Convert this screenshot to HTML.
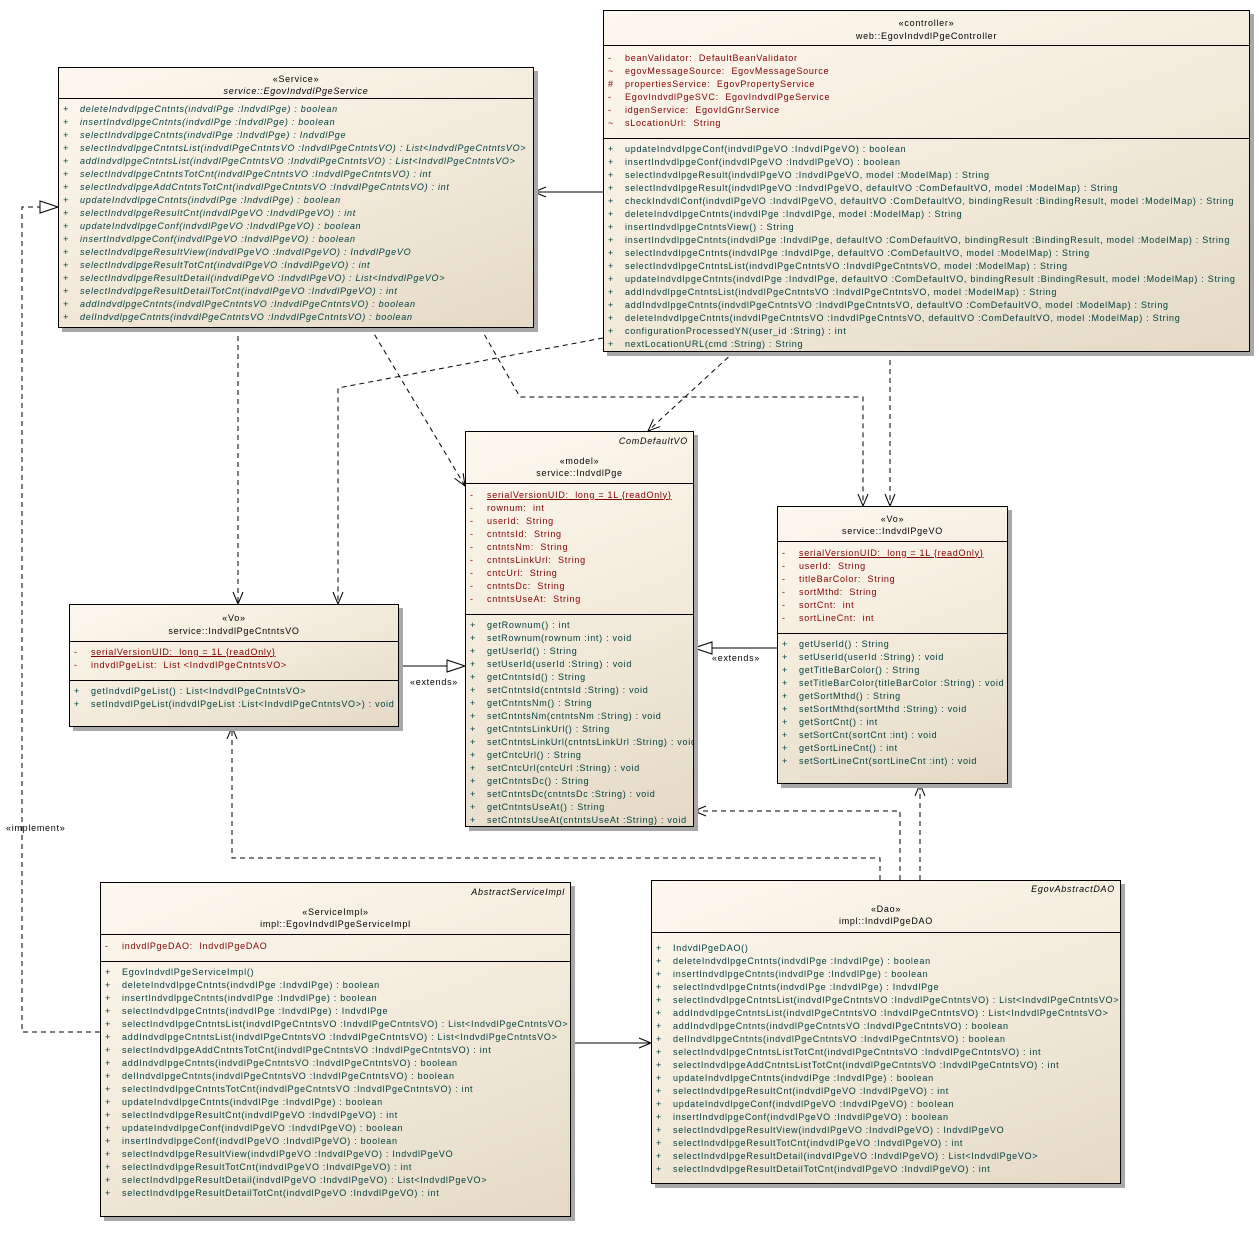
<!DOCTYPE html>
<html><head><meta charset="utf-8"><style>
body{margin:0;width:1259px;height:1240px;background:#fff;position:relative;overflow:hidden;font-family:"Liberation Sans",sans-serif;font-size:9px;letter-spacing:.72px}
.box{position:absolute;border:1px solid #000;background:linear-gradient(160deg,#fdf8ef 0%,#f3eadb 50%,#e4d9c6 100%);box-shadow:4px 4px 0 #a8a8a8;box-sizing:border-box;overflow:hidden}
.sep{position:absolute;left:0;right:0;border-top:1px solid #000}
.hd{position:absolute;left:0;right:0;text-align:center;line-height:13px;white-space:pre;color:#000}
.cr{position:absolute;right:5px;font-style:italic;line-height:13px;white-space:pre}
.ls{position:absolute;left:0;right:0}
.ls div{position:relative;height:13px;line-height:13px;padding-left:21px;white-space:pre}
.ls div:before{content:attr(m);position:absolute;left:4px}
.a{color:#800000}.o{color:#00403f}
.it div{font-style:italic}
u{text-decoration:underline}
svg{position:absolute;left:0;top:0}
.lbl{position:absolute;font-size:9px;white-space:nowrap}
</style></head><body>

<svg width="1259" height="1240" style="z-index:0">
<defs>
<marker id="op" markerWidth="14" markerHeight="12" refX="13" refY="6" orient="auto" markerUnits="userSpaceOnUse"><path d="M1,1 L13,6 L1,11" fill="none" stroke="#000"/></marker>
<marker id="tr" markerWidth="20" markerHeight="14" refX="19" refY="7" orient="auto" markerUnits="userSpaceOnUse"><path d="M1,1 L19,7 L1,13 Z" fill="#fff" stroke="#000"/></marker>
</defs>
<g stroke="#000" fill="none">
<line x1="603" y1="192" x2="534" y2="192" marker-end="url(#op)"/>
<line x1="570" y1="1043" x2="651" y2="1043" marker-end="url(#op)"/>
<line x1="398" y1="666" x2="465" y2="666" marker-end="url(#tr)"/>
<line x1="777" y1="648" x2="694" y2="648" marker-end="url(#tr)"/>
<g stroke-dasharray="5,4">
<polyline points="238,327 238,604" marker-end="url(#op)"/>
<polyline points="370,327 465,486" marker-end="url(#op)"/>
<polyline points="480,327 520,397 863,397 863,506" marker-end="url(#op)"/>
<polyline points="603,338 338,388 338,604" marker-end="url(#op)"/>
<polyline points="735,351 648,431" marker-end="url(#op)"/>
<polyline points="890,351 890,506" marker-end="url(#op)"/>
<polyline points="100,1032 22,1032 22,207 58,207" marker-end="url(#tr)"/>
<polyline points="880,880 880,858 232,858 232,727" marker-end="url(#op)"/>
<polyline points="900,880 900,811 694,811" marker-end="url(#op)"/>
<polyline points="920,880 920,784" marker-end="url(#op)"/>
</g></g></svg>
<div class="lbl" style="left:410px;top:677px">«extends»</div>
<div class="lbl" style="left:712px;top:653px">«extends»</div>
<div class="lbl" style="left:6px;top:823px">«implement»</div>

<!-- Service -->
<div class="box" style="left:58px;top:67px;width:476px;height:261px">
<div class="hd" style="top:4.5px">«Service»</div>
<div class="hd" style="top:16.5px;font-style:italic">service::EgovIndvdlPgeService</div>
<div class="sep" style="top:30px"></div>
<div class="ls o it" style="top:34.5px">
<div m="+">deleteIndvdlpgeCntnts(indvdlPge :IndvdlPge) : boolean</div>
<div m="+">insertIndvdlpgeCntnts(indvdlPge :IndvdlPge) : boolean</div>
<div m="+">selectIndvdlpgeCntnts(indvdlPge :IndvdlPge) : IndvdlPge</div>
<div m="+">selectIndvdlpgeCntntsList(indvdlPgeCntntsVO :IndvdlPgeCntntsVO) : List&lt;IndvdlPgeCntntsVO&gt;</div>
<div m="+">addIndvdlpgeCntntsList(indvdlPgeCntntsVO :IndvdlPgeCntntsVO) : List&lt;IndvdlPgeCntntsVO&gt;</div>
<div m="+">selectIndvdlpgeCntntsTotCnt(indvdlPgeCntntsVO :IndvdlPgeCntntsVO) : int</div>
<div m="+">selectIndvdlpgeAddCntntsTotCnt(indvdlPgeCntntsVO :IndvdlPgeCntntsVO) : int</div>
<div m="+">updateIndvdlpgeCntnts(indvdlPge :IndvdlPge) : boolean</div>
<div m="+">selectIndvdlpgeResultCnt(indvdlPgeVO :IndvdlPgeVO) : int</div>
<div m="+">updateIndvdlpgeConf(indvdlPgeVO :IndvdlPgeVO) : boolean</div>
<div m="+">insertIndvdlpgeConf(indvdlPgeVO :IndvdlPgeVO) : boolean</div>
<div m="+">selectIndvdlpgeResultView(indvdlPgeVO :IndvdlPgeVO) : IndvdlPgeVO</div>
<div m="+">selectIndvdlpgeResultTotCnt(indvdlPgeVO :IndvdlPgeVO) : int</div>
<div m="+">selectIndvdlpgeResultDetail(indvdlPgeVO :IndvdlPgeVO) : List&lt;IndvdlPgeVO&gt;</div>
<div m="+">selectIndvdlpgeResultDetailTotCnt(indvdlPgeVO :IndvdlPgeVO) : int</div>
<div m="+">addIndvdlpgeCntnts(indvdlPgeCntntsVO :IndvdlPgeCntntsVO) : boolean</div>
<div m="+">delIndvdlpgeCntnts(indvdlPgeCntntsVO :IndvdlPgeCntntsVO) : boolean</div>
</div></div>

<!-- Controller -->
<div class="box" style="left:603px;top:10px;width:647px;height:342px">
<div class="hd" style="top:5.5px">«controller»</div>
<div class="hd" style="top:18.5px">web::EgovIndvdlPgeController</div>
<div class="sep" style="top:34px"></div>
<div class="ls a" style="top:40.5px">
<div m="-">beanValidator:  DefaultBeanValidator</div>
<div m="~">egovMessageSource:  EgovMessageSource</div>
<div m="#">propertiesService:  EgovPropertyService</div>
<div m="-">EgovIndvdlPgeSVC:  EgovIndvdlPgeService</div>
<div m="-">idgenService:  EgovIdGnrService</div>
<div m="~">sLocationUrl:  String</div>
</div>
<div class="sep" style="top:127px"></div>
<div class="ls o" style="top:131.5px">
<div m="+">updateIndvdlpgeConf(indvdlPgeVO :IndvdlPgeVO) : boolean</div>
<div m="+">insertIndvdlpgeConf(indvdlPgeVO :IndvdlPgeVO) : boolean</div>
<div m="+">selectIndvdlpgeResult(indvdlPgeVO :IndvdlPgeVO, model :ModelMap) : String</div>
<div m="+">selectIndvdlpgeResult(indvdlPgeVO :IndvdlPgeVO, defaultVO :ComDefaultVO, model :ModelMap) : String</div>
<div m="+">checkIndvdlConf(indvdlPgeVO :IndvdlPgeVO, defaultVO :ComDefaultVO, bindingResult :BindingResult, model :ModelMap) : String</div>
<div m="+">deleteIndvdlpgeCntnts(indvdlPge :IndvdlPge, model :ModelMap) : String</div>
<div m="+">insertIndvdlpgeCntntsView() : String</div>
<div m="+">insertIndvdlpgeCntnts(indvdlPge :IndvdlPge, defaultVO :ComDefaultVO, bindingResult :BindingResult, model :ModelMap) : String</div>
<div m="+">selectIndvdlpgeCntnts(indvdlPge :IndvdlPge, defaultVO :ComDefaultVO, model :ModelMap) : String</div>
<div m="+">selectIndvdlpgeCntntsList(indvdlPgeCntntsVO :IndvdlPgeCntntsVO, model :ModelMap) : String</div>
<div m="+">updateIndvdlpgeCntnts(indvdlPge :IndvdlPge, defaultVO :ComDefaultVO, bindingResult :BindingResult, model :ModelMap) : String</div>
<div m="+">addIndvdlpgeCntntsList(indvdlPgeCntntsVO :IndvdlPgeCntntsVO, model :ModelMap) : String</div>
<div m="+">addIndvdlpgeCntnts(indvdlPgeCntntsVO :IndvdlPgeCntntsVO, defaultVO :ComDefaultVO, model :ModelMap) : String</div>
<div m="+">deleteIndvdlpgeCntnts(indvdlPgeCntntsVO :IndvdlPgeCntntsVO, defaultVO :ComDefaultVO, model :ModelMap) : String</div>
<div m="+">configurationProcessedYN(user_id :String) : int</div>
<div m="+">nextLocationURL(cmd :String) : String</div>
</div></div>

<!-- IndvdlPge -->
<div class="box" style="left:465px;top:431px;width:229px;height:396px">
<div class="cr" style="top:2.5px">ComDefaultVO</div>
<div class="hd" style="top:22.5px">«model»</div>
<div class="hd" style="top:34.5px">service::IndvdlPge</div>
<div class="sep" style="top:51px"></div>
<div class="ls a" style="top:56.5px">
<div m="-"><u>serialVersionUID:  long = 1L {readOnly}</u></div>
<div m="-">rownum:  int</div>
<div m="-">userId:  String</div>
<div m="-">cntntsId:  String</div>
<div m="-">cntntsNm:  String</div>
<div m="-">cntntsLinkUrl:  String</div>
<div m="-">cntcUrl:  String</div>
<div m="-">cntntsDc:  String</div>
<div m="-">cntntsUseAt:  String</div>
</div>
<div class="sep" style="top:182px"></div>
<div class="ls o" style="top:186.5px">
<div m="+">getRownum() : int</div>
<div m="+">setRownum(rownum :int) : void</div>
<div m="+">getUserId() : String</div>
<div m="+">setUserId(userId :String) : void</div>
<div m="+">getCntntsId() : String</div>
<div m="+">setCntntsId(cntntsId :String) : void</div>
<div m="+">getCntntsNm() : String</div>
<div m="+">setCntntsNm(cntntsNm :String) : void</div>
<div m="+">getCntntsLinkUrl() : String</div>
<div m="+">setCntntsLinkUrl(cntntsLinkUrl :String) : void</div>
<div m="+">getCntcUrl() : String</div>
<div m="+">setCntcUrl(cntcUrl :String) : void</div>
<div m="+">getCntntsDc() : String</div>
<div m="+">setCntntsDc(cntntsDc :String) : void</div>
<div m="+">getCntntsUseAt() : String</div>
<div m="+">setCntntsUseAt(cntntsUseAt :String) : void</div>
</div></div>

<!-- IndvdlPgeVO -->
<div class="box" style="left:777px;top:506px;width:231px;height:278px">
<div class="hd" style="top:5.5px">«Vo»</div>
<div class="hd" style="top:17.5px">service::IndvdlPgeVO</div>
<div class="sep" style="top:34px"></div>
<div class="ls a" style="top:39.5px">
<div m="-"><u>serialVersionUID:  long = 1L {readOnly}</u></div>
<div m="-">userId:  String</div>
<div m="-">titleBarColor:  String</div>
<div m="-">sortMthd:  String</div>
<div m="-">sortCnt:  int</div>
<div m="-">sortLineCnt:  int</div>
</div>
<div class="sep" style="top:126px"></div>
<div class="ls o" style="top:130.5px">
<div m="+">getUserId() : String</div>
<div m="+">setUserId(userId :String) : void</div>
<div m="+">getTitleBarColor() : String</div>
<div m="+">setTitleBarColor(titleBarColor :String) : void</div>
<div m="+">getSortMthd() : String</div>
<div m="+">setSortMthd(sortMthd :String) : void</div>
<div m="+">getSortCnt() : int</div>
<div m="+">setSortCnt(sortCnt :int) : void</div>
<div m="+">getSortLineCnt() : int</div>
<div m="+">setSortLineCnt(sortLineCnt :int) : void</div>
</div></div>

<!-- IndvdlPgeCntntsVO -->
<div class="box" style="left:69px;top:604px;width:330px;height:123px">
<div class="hd" style="top:6.5px">«Vo»</div>
<div class="hd" style="top:19.5px">service::IndvdlPgeCntntsVO</div>
<div class="sep" style="top:36px"></div>
<div class="ls a" style="top:40.5px">
<div m="-"><u>serialVersionUID:  long = 1L {readOnly}</u></div>
<div m="-">indvdlPgeList:  List &lt;IndvdlPgeCntntsVO&gt;</div>
</div>
<div class="sep" style="top:75px"></div>
<div class="ls o" style="top:79.5px">
<div m="+">getIndvdlPgeList() : List&lt;IndvdlPgeCntntsVO&gt;</div>
<div m="+">setIndvdlPgeList(indvdlPgeList :List&lt;IndvdlPgeCntntsVO&gt;) : void</div>
</div></div>

<!-- ServiceImpl -->
<div class="box" style="left:100px;top:882px;width:471px;height:335px">
<div class="cr" style="top:2.5px">AbstractServiceImpl</div>
<div class="hd" style="top:22.5px">«ServiceImpl»</div>
<div class="hd" style="top:34.5px">impl::EgovIndvdlPgeServiceImpl</div>
<div class="sep" style="top:51px"></div>
<div class="ls a" style="top:56.5px">
<div m="-">indvdlPgeDAO:  IndvdlPgeDAO</div>
</div>
<div class="sep" style="top:78px"></div>
<div class="ls o" style="top:82.5px">
<div m="+">EgovIndvdlPgeServiceImpl()</div>
<div m="+">deleteIndvdlpgeCntnts(indvdlPge :IndvdlPge) : boolean</div>
<div m="+">insertIndvdlpgeCntnts(indvdlPge :IndvdlPge) : boolean</div>
<div m="+">selectIndvdlpgeCntnts(indvdlPge :IndvdlPge) : IndvdlPge</div>
<div m="+">selectIndvdlpgeCntntsList(indvdlPgeCntntsVO :IndvdlPgeCntntsVO) : List&lt;IndvdlPgeCntntsVO&gt;</div>
<div m="+">addIndvdlpgeCntntsList(indvdlPgeCntntsVO :IndvdlPgeCntntsVO) : List&lt;IndvdlPgeCntntsVO&gt;</div>
<div m="+">selectIndvdlpgeAddCntntsTotCnt(indvdlPgeCntntsVO :IndvdlPgeCntntsVO) : int</div>
<div m="+">addIndvdlpgeCntnts(indvdlPgeCntntsVO :IndvdlPgeCntntsVO) : boolean</div>
<div m="+">delIndvdlpgeCntnts(indvdlPgeCntntsVO :IndvdlPgeCntntsVO) : boolean</div>
<div m="+">selectIndvdlpgeCntntsTotCnt(indvdlPgeCntntsVO :IndvdlPgeCntntsVO) : int</div>
<div m="+">updateIndvdlpgeCntnts(indvdlPge :IndvdlPge) : boolean</div>
<div m="+">selectIndvdlpgeResultCnt(indvdlPgeVO :IndvdlPgeVO) : int</div>
<div m="+">updateIndvdlpgeConf(indvdlPgeVO :IndvdlPgeVO) : boolean</div>
<div m="+">insertIndvdlpgeConf(indvdlPgeVO :IndvdlPgeVO) : boolean</div>
<div m="+">selectIndvdlpgeResultView(indvdlPgeVO :IndvdlPgeVO) : IndvdlPgeVO</div>
<div m="+">selectIndvdlpgeResultTotCnt(indvdlPgeVO :IndvdlPgeVO) : int</div>
<div m="+">selectIndvdlpgeResultDetail(indvdlPgeVO :IndvdlPgeVO) : List&lt;IndvdlPgeVO&gt;</div>
<div m="+">selectIndvdlpgeResultDetailTotCnt(indvdlPgeVO :IndvdlPgeVO) : int</div>
</div></div>

<!-- DAO -->
<div class="box" style="left:651px;top:880px;width:470px;height:304px">
<div class="cr" style="top:1.5px">EgovAbstractDAO</div>
<div class="hd" style="top:21.5px">«Dao»</div>
<div class="hd" style="top:33.5px">impl::IndvdlPgeDAO</div>
<div class="sep" style="top:51px"></div>
<div class="ls o" style="top:60.5px">
<div m="+">IndvdlPgeDAO()</div>
<div m="+">deleteIndvdlpgeCntnts(indvdlPge :IndvdlPge) : boolean</div>
<div m="+">insertIndvdlpgeCntnts(indvdlPge :IndvdlPge) : boolean</div>
<div m="+">selectIndvdlpgeCntnts(indvdlPge :IndvdlPge) : IndvdlPge</div>
<div m="+">selectIndvdlpgeCntntsList(indvdlPgeCntntsVO :IndvdlPgeCntntsVO) : List&lt;IndvdlPgeCntntsVO&gt;</div>
<div m="+">addIndvdlpgeCntntsList(indvdlPgeCntntsVO :IndvdlPgeCntntsVO) : List&lt;IndvdlPgeCntntsVO&gt;</div>
<div m="+">addIndvdlpgeCntnts(indvdlPgeCntntsVO :IndvdlPgeCntntsVO) : boolean</div>
<div m="+">delIndvdlpgeCntnts(indvdlPgeCntntsVO :IndvdlPgeCntntsVO) : boolean</div>
<div m="+">selectIndvdlpgeCntntsListTotCnt(indvdlPgeCntntsVO :IndvdlPgeCntntsVO) : int</div>
<div m="+">selectIndvdlpgeAddCntntsListTotCnt(indvdlPgeCntntsVO :IndvdlPgeCntntsVO) : int</div>
<div m="+">updateIndvdlpgeCntnts(indvdlPge :IndvdlPge) : boolean</div>
<div m="+">selectIndvdlpgeResultCnt(indvdlPgeVO :IndvdlPgeVO) : int</div>
<div m="+">updateIndvdlpgeConf(indvdlPgeVO :IndvdlPgeVO) : boolean</div>
<div m="+">insertIndvdlpgeConf(indvdlPgeVO :IndvdlPgeVO) : boolean</div>
<div m="+">selectIndvdlpgeResultView(indvdlPgeVO :IndvdlPgeVO) : IndvdlPgeVO</div>
<div m="+">selectIndvdlpgeResultTotCnt(indvdlPgeVO :IndvdlPgeVO) : int</div>
<div m="+">selectIndvdlpgeResultDetail(indvdlPgeVO :IndvdlPgeVO) : List&lt;IndvdlPgeVO&gt;</div>
<div m="+">selectIndvdlpgeResultDetailTotCnt(indvdlPgeVO :IndvdlPgeVO) : int</div>
</div></div>

</body></html>
